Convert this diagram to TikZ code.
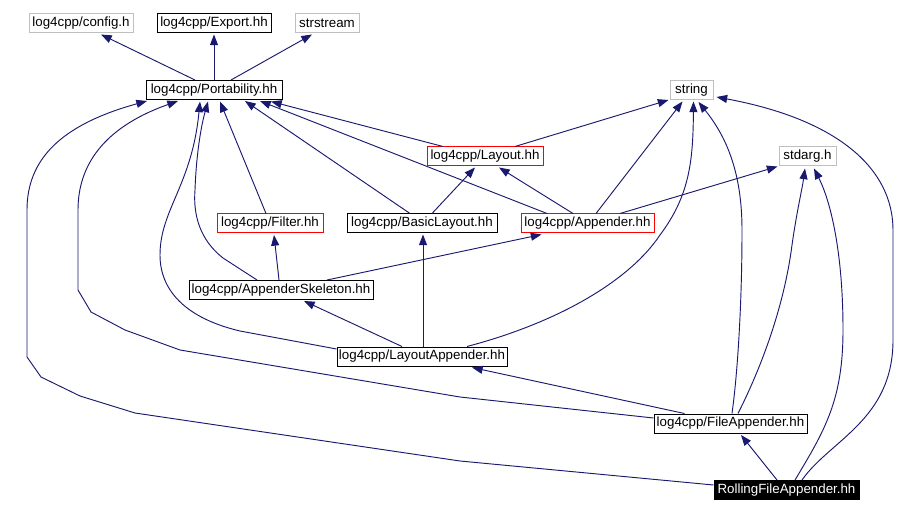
\documentclass[tikz,border=0pt]{standalone}
\usepackage{fontspec}
\setmainfont{Liberation Sans}
\usetikzlibrary{arrows.meta,calc}
\definecolor{edgeblue}{HTML}{191970}
\definecolor{graybox}{HTML}{BFBFBF}
\begin{document}
\begin{tikzpicture}[x=0.75pt,y=-0.75pt,
  box/.style={draw=black,rectangle,inner sep=0pt,minimum height=14.25pt,line width=0.75pt,font=\fontsize{10pt}{11pt}\selectfont,text=black},
  gbox/.style={box,draw=graybox},
  rbox/.style={box,draw=red},
  dbox/.style={box,fill=black,text=white},
  arr/.style={draw=edgeblue,line width=0.7pt,-{Triangle[length=8pt,width=6pt]}}]
\useasboundingbox (0,0) rectangle (921,513);
\fill[white] (0,0) rectangle (921,513);
% nodes
\node[gbox,minimum width=78pt] (config) at (81,23.5) {log4cpp/config.h};
\node[box,minimum width=85.5pt] (export) at (214,23.5) {log4cpp/Export.hh};
\node[gbox,minimum width=48pt] (strstream) at (327,23.5) {strstream};
\node[box,minimum width=102pt] (port) at (214,90) {log4cpp/Portability.hh};
\node[gbox,minimum width=32.25pt] (string) at (691.5,90) {string};
\node[rbox,minimum width=87pt] (layout) at (485,156.5) {log4cpp/Layout.hh};
\node[gbox,minimum width=42.75pt] (stdarg) at (807.5,156.5) {stdarg.h};
\node[rbox,minimum width=79.5pt] (filter) at (270,223.5) {log4cpp/Filter.hh};
\node[box,minimum width=112.5pt] (basic) at (422,223.5) {log4cpp/BasicLayout.hh};
\node[rbox,minimum width=99.75pt] (appender) at (587.5,223.5) {log4cpp/Appender.hh};
\node[box,minimum width=138pt] (skel) at (281,290) {log4cpp/AppenderSkeleton.hh};
\node[box,minimum width=127.5pt] (lapp) at (422,356.5) {log4cpp/LayoutAppender.hh};
\node[box,minimum width=114.75pt] (fapp) at (730.5,423.5) {log4cpp/FileAppender.hh};
\node[dbox,minimum width=108.75pt] (rfa) at (786.5,490) {RollingFileAppender.hh};
% edges into Portability's parents
\draw[arr] ($(port.north)+(-19,0)$) -- ($(config.south)+(20,1)$);
\draw[arr] (port.north) -- ($(export.south)+(0,1)$);
\draw[arr] ($(port.north)+(17,0)$) -- ($(strstream.south)+(-15,1)$);
% edges into Portability
\draw[arr] ($(layout.north)+(-42,0)$) -- ($(port.south)+(57,1.5)$);
\draw[arr] ($(appender.north)+(-40.5,0)$) -- ($(port.south)+(46,1)$);
\draw[arr] ($(basic.north)+(-12,0)$) -- ($(port.south)+(31,1)$);
\draw[arr] ($(filter.north)+(-4,0)$) -- ($(port.south)+(6,1.5)$);
\draw[arr] ($(skel.north)+(-24,0)$) -- (223,258) .. controls (200,240) and (193,215) .. (195,190) .. controls (196,160) and (200,130) .. ($(port.south)+(-6,1.5)$);
\draw[arr] ($(lapp.west)+(0,-7.5)$) -- (240,331) .. controls (185,318) and (160,290) .. (160,255) .. controls (160,210) and (192,185) .. ($(port.south)+(-14,1.5)$);
\draw[arr] ($(fapp.west)+(0,-5.5)$) -- (460,397) -- (180,350) -- (125,330) -- (91,312) -- (78,290) -- (78,210) .. controls (78,160) and (110,125) .. ($(port.south)+(-36,1)$);
\draw[arr] ($(rfa.west)+(0,-5)$) -- (460,461) -- (135,413) -- (80,396) -- (41,377) -- (27,357) -- (27,210) .. controls (27,160) and (60,125) .. ($(port.south)+(-67,1)$);
% edges into string
\draw[arr] ($(layout.north)+(30,0)$) -- ($(string.south west)+(-1,0)$);
\draw[arr] ($(appender.north)+(8.5,0)$) -- ($(string.south)+(-9,1.5)$);
\draw[arr] ($(lapp.north)+(45,0)$) .. controls (560,322) and (630,280) .. (660,235) .. controls (690,195) and (693,160) .. ($(string.south)+(2,1.5)$);
\draw[arr] ($(fapp.north)+(1.5,0)$) .. controls (738,370) and (742,300) .. (742,230) .. controls (742,170) and (725,135) .. ($(string.south)+(7,2)$);
\draw[arr] ($(rfa.north)+(15.5,0)$) .. controls (830,440) and (893,420) .. (893,340) -- (893,230) .. controls (893,170) and (840,120) .. ($(string.south east)+(3,-3)$);
% edges into Layout
\draw[arr] ($(basic.north)+(10,0)$) -- ($(layout.south)+(-10,1)$);
\draw[arr] ($(appender.north)+(-14.5,0)$) -- ($(layout.south)+(14,1)$);
% edges into stdarg
\draw[arr] ($(appender.north)+(32.5,0)$) -- ($(stdarg.south west)+(-1,0)$);
\draw[arr] ($(fapp.north)+(7.5,0)$) .. controls (765,360) and (785,300) .. (792,245) .. controls (797,210) and (802,190) .. ($(stdarg.south)+(-2.5,2)$);
\draw[arr] ($(rfa.north)+(8.5,0)$) .. controls (825,430) and (843,400) .. (843,330) .. controls (843,250) and (830,200) .. ($(stdarg.south)+(6.5,2)$);
% remaining edges
\draw[arr] ($(skel.north)+(-2,0)$) -- ($(filter.south)+(4,1.5)$);
\draw[arr] ($(lapp.north)+(1,0)$) -- ($(basic.south)+(1,1)$);
\draw[arr] ($(skel.north)+(46,0)$) -- ($(appender.south)+(-46,1)$);
\draw[arr] ($(lapp.north)+(-20,0)$) -- ($(skel.south)+(23,1)$);
\draw[arr] ($(fapp.north)+(-46,0)$) -- ($(lapp.south)+(50,1)$);
\draw[arr] ($(rfa.north)+(-9.5,0)$) -- ($(fapp.south)+(10.5,1.5)$);
\end{tikzpicture}
\end{document}
